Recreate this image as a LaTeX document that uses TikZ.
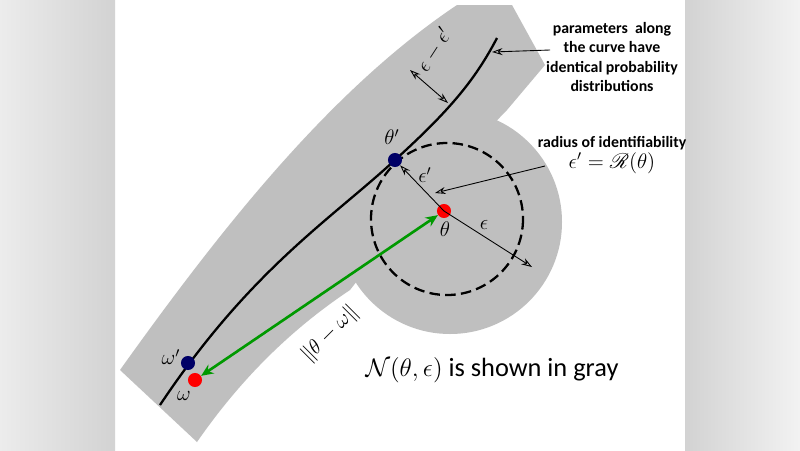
\documentclass[tikz,border=0pt]{standalone}
\usepackage{amsmath,mathrsfs}
\usepackage{fontspec}
\setsansfont{Carlito}
\usetikzlibrary{arrows.meta}
\tikzset{
  thin arr/.style={-{Stealth[length=6pt,width=4pt,open]}, line width=0.5pt},
  lbl/.style={font=\sffamily\bfseries\fontsize{9}{11}\selectfont, align=center},
  dot/.style={circle, inner sep=0pt, minimum size=8pt},
  mlbl/.style={font=\large},
}
\begin{document}
\begin{tikzpicture}[x=0.02cm,y=-0.02cm]
\useasboundingbox (0,0) rectangle (800,450);
\fill[white] (0,0) rectangle (800,450);
\shade[left color=gray!15, right color=gray!35] (0,0) rectangle (115,450);
\shade[left color=gray!35, right color=gray!10] (685,0) rectangle (800,450);
% gray region
\fill[black!25] (450,222) circle[radius=112];
\fill[black!25]
  (120,370) .. controls (220,230) and (330,90) .. (457,5)
  -- (512,5) -- (545,65) -- (507,110) -- (420,200)
  -- (350,290) .. controls (290,330) and (240,380) .. (197,442) -- cycle;
% curve
\draw[line width=1.3pt] (160,405) .. controls (250,270) and (330,220) .. (395,160)
  .. controls (450,110) and (475,80) .. (497,38);
\coordinate (ctop) at (492,52);
% dashed circle
\draw[line width=1.3pt, dash pattern=on 6pt off 3pt] (447,219) circle[radius=76];
% dots
\node[dot, fill=red] (th) at (444,211) {};
\node[dot, fill=blue!40!black] (thp) at (395,160) {};
\node[dot, fill=blue!40!black] (omp) at (188,363) {};
\node[dot, fill=red] (om) at (195,380) {};
\node[mlbl] at (392,137) {$\theta'$};
\node[mlbl] at (445,229) {$\theta$};
\node[mlbl] at (171,357) {$\omega'$};
\node[mlbl] at (184,396) {$\omega$};
% arrows
\coordinate (eps) at (532,267);
\draw[thin arr] (th.center) -- (thp);
\draw[thin arr] (th.center) -- (eps);
\node[mlbl] at (425,175) {$\epsilon'$};
\node[mlbl] at (484,225) {$\epsilon$};
\coordinate (d1) at (410,70); \coordinate (d2) at (448,103);
\draw[{Stealth[length=6pt,width=4pt,open]}-{Stealth[length=6pt,width=4pt,open]}, line width=0.5pt] (d1) -- (d2);
\node[mlbl, rotate=57] at (434,50) {$\epsilon-\epsilon'$};
\draw[{Stealth[length=7pt,width=6pt]}-{Stealth[length=7pt,width=6pt]}, green!60!black, line width=1.5pt] (th) -- (om);
\node[mlbl, rotate=45] at (330,334) {$\|\theta-\omega\|$};
% labels
\node[lbl] (par) at (612,57) {parameters\ \ along\\the curve have\\identical probability\\distributions};
\draw[thin arr] (550,50) -- (ctop);
\node[lbl] (rad) at (612,143) {radius of identifiability};
\node[font=\large] (form) at (612,163) {$\epsilon'=\mathscr{R}(\theta)$};
\coordinate (rtip) at (435,193);
\draw[thin arr] (545,166) -- (rtip);
\node[font=\sffamily\fontsize{15}{18}\selectfont] (cap) at (492,370) {$\mathcal{N}(\theta,\epsilon)$ is shown in gray};
\end{tikzpicture}
\end{document}
